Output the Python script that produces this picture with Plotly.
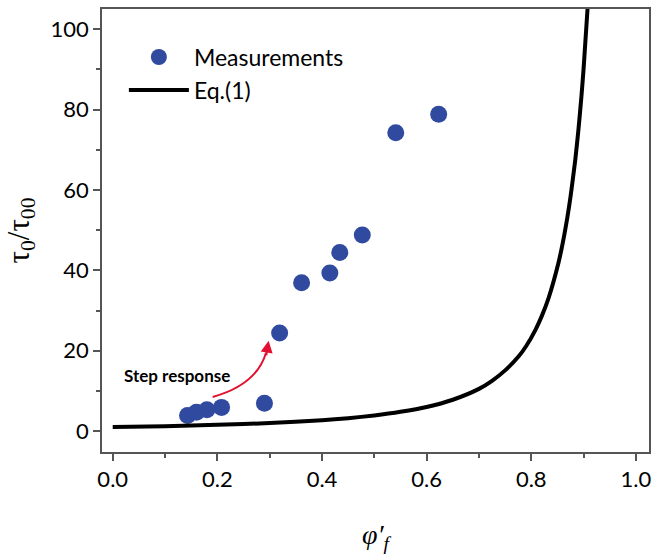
import plotly.graph_objects as go

# Measurements
meas_x = [0.143, 0.160, 0.180, 0.208, 0.290, 0.319, 0.361, 0.415, 0.434, 0.477, 0.541, 0.623]
meas_y = [3.9, 4.7, 5.3, 5.9, 6.9, 24.4, 36.9, 39.3, 44.4, 48.8, 74.2, 78.8]

# Eq.(1) curve
eq_x = [0.0, 0.1, 0.2, 0.3, 0.4, 0.45, 0.5, 0.55, 0.6, 0.65, 0.7, 0.725, 0.75, 0.776, 0.79,
        0.808, 0.82, 0.833, 0.852, 0.86, 0.869, 0.875, 0.884, 0.89, 0.896, 0.9, 0.908]
eq_y = [1.0, 1.23, 1.55, 2.0, 2.7, 3.2, 3.9, 4.8, 6.0, 7.8, 10.5, 12.5, 15.1, 18.6, 21.1,
        25.2, 28.6, 33.1, 41.9, 46.7, 53.2, 58.3, 67.4, 74.8, 83.5, 90.2, 106.0]

FONT = "Lato"

fig = go.Figure()
fig.add_trace(go.Scatter(x=meas_x, y=meas_y, mode="markers", name="Measurements",
                         marker=dict(color="#2F4A9E", size=17, line=dict(width=0))))
fig.add_trace(go.Scatter(x=eq_x, y=eq_y, mode="lines", name="Eq.(1)",
                         line=dict(color="black", width=4, shape="spline", smoothing=0.6)))

# curved red arrow
fig.add_shape(type="path", path="M 0.191 8.5 Q 0.275 11.5 0.293 19.5",
              line=dict(color="#E3102F", width=2), xref="x", yref="y")
fig.add_annotation(x=0.298, y=22.5, ax=0.293, ay=18.5, xref="x", yref="y",
                   axref="x", ayref="y", showarrow=True, arrowhead=2, arrowsize=1.2,
                   arrowwidth=2, arrowcolor="#E3102F", text="")
fig.add_annotation(x=0.122, y=13.9, xref="x", yref="y", text="<b>Step response</b>",
                   showarrow=False, font=dict(family=FONT, size=17, color="black"))

axis_common = dict(showline=True, linecolor="#555", linewidth=1.5, mirror=True,
                   ticks="outside", ticklen=7, tickcolor="#555", tickwidth=1.5,
                   showgrid=False, zeroline=False,
                   tickfont=dict(family=FONT, size=22, color="black"))

fig.update_xaxes(range=[-0.0205, 1.025], dtick=0.2, tickformat=".1f",
                 minor=dict(dtick=0.1, ticks="outside", ticklen=4, tickcolor="#555"),
                 title=dict(text="<i>φ′<sub>f</sub></i>", font=dict(family="Liberation Serif", size=28, color="black"),
                            standoff=36),
                 **axis_common)
fig.update_yaxes(range=[-5.2, 105], dtick=20,
                 minor=dict(dtick=10, ticks="outside", ticklen=4, tickcolor="#555"),
                 title=dict(text="τ<sub>0</sub>/τ<sub>00</sub>", font=dict(family="Liberation Serif", size=31, color="black"),
                            standoff=12),
                 **axis_common)

fig.update_layout(width=657, height=554, margin=dict(l=102, r=6, t=9, b=102),
                  plot_bgcolor="white", paper_bgcolor="white",
                  legend=dict(x=0.04, y=0.94, xanchor="left", yanchor="top",
                              font=dict(family=FONT, size=23, color="black"),
                              bgcolor="rgba(0,0,0,0)", itemwidth=60),
                  showlegend=True)

fig.write_html("out.html")
